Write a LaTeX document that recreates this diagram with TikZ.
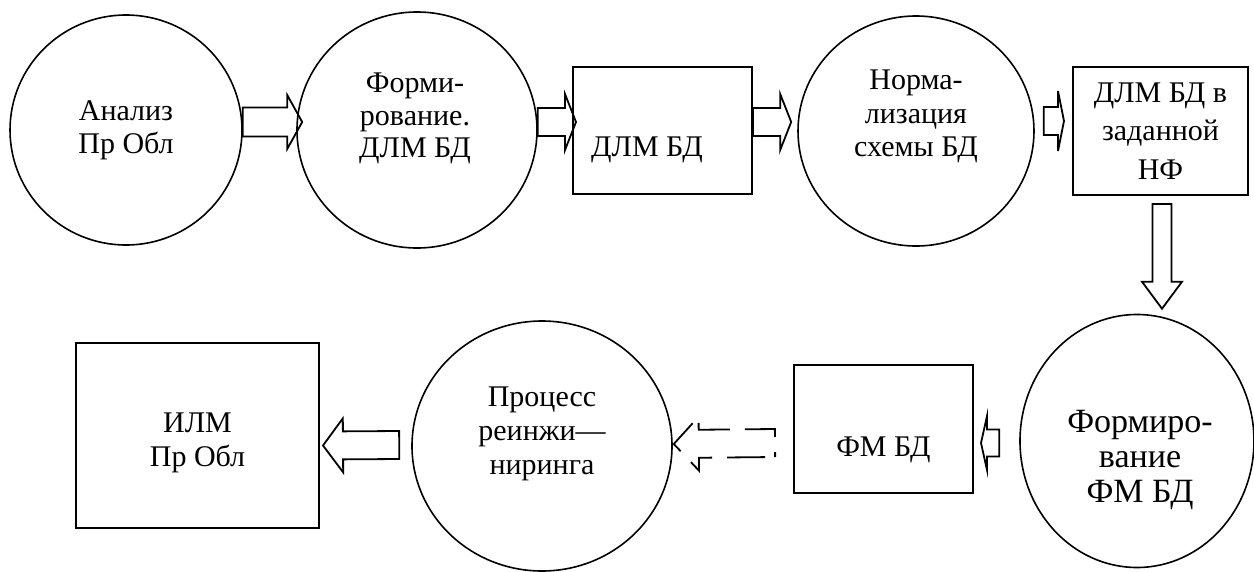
\documentclass[tikz,border=0pt]{standalone}
\usepackage{fontspec}
\setmainfont{Liberation Serif}
\usetikzlibrary{shapes.geometric, calc}

% block arrow: [options]{from}{tip}{shaft half}{head half}{head length}
\newcommand{\blockarr}[6][]{%
  \coordinate (ba-s) at #2;
  \coordinate (ba-t) at #3;
  \coordinate (ba-h) at ($(ba-t)!#6pt!(ba-s)$);
  \draw[blockarrow,#1] ($(ba-s)!#4pt!90:(ba-t)$) -- ($(ba-h)!#4pt!-90:(ba-s)$)
    -- ($(ba-h)!#5pt!-90:(ba-s)$) -- (ba-t) -- ($(ba-h)!#5pt!90:(ba-s)$)
    -- ($(ba-h)!#4pt!90:(ba-s)$) -- ($(ba-s)!#4pt!-90:(ba-t)$) -- cycle;
}

\begin{document}
\begin{tikzpicture}[x=1pt,y=-1pt]

\tikzset{proc/.style = {shape=ellipse,draw,line width=1.6pt,inner sep=0pt}}
\tikzset{store/.style = {shape=rectangle,draw,line width=2pt,inner sep=0pt}}
\tikzset{txt/.style = {align=center,inner sep=0pt}}
\tikzset{blockarrow/.style = {line width=1.8pt,line join=miter}}
\useasboundingbox (0,0) rectangle (1254,571);
%processes and stores
\node[proc, minimum width=232, minimum height=230,
  label={[txt,font=\fontsize{30}{33}\selectfont]center:{Анализ\\Пр Обл}}] (c1) at (126,130) {};
\node[proc, minimum width=240, minimum height=236,
  label={[txt,font=\fontsize{30}{32.5}\selectfont,xshift=-2pt,yshift=11.5pt]center:{Форми-\\рование.\\ДЛМ БД}}] (c2) at (417,130) {};
\node[store, minimum width=179, minimum height=127,
  label={[txt,font=\fontsize{30}{33}\selectfont,xshift=-15.5pt,yshift=-19.5pt]center:{ДЛМ БД}}] (b2) at (662.5,130.5) {};
\node[proc, minimum width=236, minimum height=230,
  label={[txt,font=\fontsize{30}{33.5}\selectfont,yshift=14.5pt]center:{Норма-\\лизация\\схемы БД}}] (c3) at (916,131) {};
\node[store, minimum width=175, minimum height=128,
  label={[txt,font=\fontsize{30}{38.5}\selectfont]center:{ДЛМ БД в\\заданной\\НФ}}] (b4) at (1160.5,131) {};
\node[proc, minimum width=234, minimum height=253,
  label={[txt,font=\fontsize{34}{35}\selectfont,xshift=3pt,yshift=-19pt]center:{Формиро-\\вание\\ФМ БД}}] (c4) at (1137,441) {};
\node[store, minimum width=179, minimum height=128,
  label={[txt,font=\fontsize{30}{33}\selectfont,yshift=-21pt]center:{ФМ БД}}] (b5) at (883.5,429) {};
\node[proc, minimum width=260, minimum height=250,
  label={[txt,font=\fontsize{30}{34}\selectfont,yshift=12pt]center:{Процесс\\реинжи—\\ниринга}}] (c5) at (542,446) {};
\node[store, minimum width=243, minimum height=185,
  label={[txt,font=\fontsize{30}{34}\selectfont,yshift=-7.5pt]center:{ИЛМ\\Пр Обл}}] (b6) at (197.5,435.5) {};
%arrows
\blockarr{($(c1.east)+(0,-8)$)}{($(c2.west)+(6,-8)$)}{14.5}{27}{15}
\blockarr{($(c2.east)+(0,-8)$)}{($(b2.west)+(4,-8.5)$)}{14}{28}{11}
\blockarr{($(b2.east)+(0,-8.5)$)}{($(c3.west)+(-6,-9)$)}{14}{28}{11}
\blockarr{($(c3.east)+(9,-10)$)}{($(b4.west)+(-8,-10)$)}{14}{30}{6}
\blockarr{($(b4.south)+(1.5,8)$)}{($(b4.south |- c4.north)+(1.5,-5)$)}{9.5}{20}{27}
\blockarr{($(c4.west)+(-20,2)$)}{($(b5.east)+(7,14)$)}{13.5}{27}{6}
\blockarr[dash pattern=on 38pt off 15pt, dash phase=43pt]{($(b5.west)+(-18,14)$)}{($(c5.east)+(1,-2)$)}{14}{27}{25}
\blockarr{($(c5.west)+(-12,-1)$)}{($(b6.east)+(3,10)$)}{14}{27}{20}

\end{tikzpicture}
\end{document}
